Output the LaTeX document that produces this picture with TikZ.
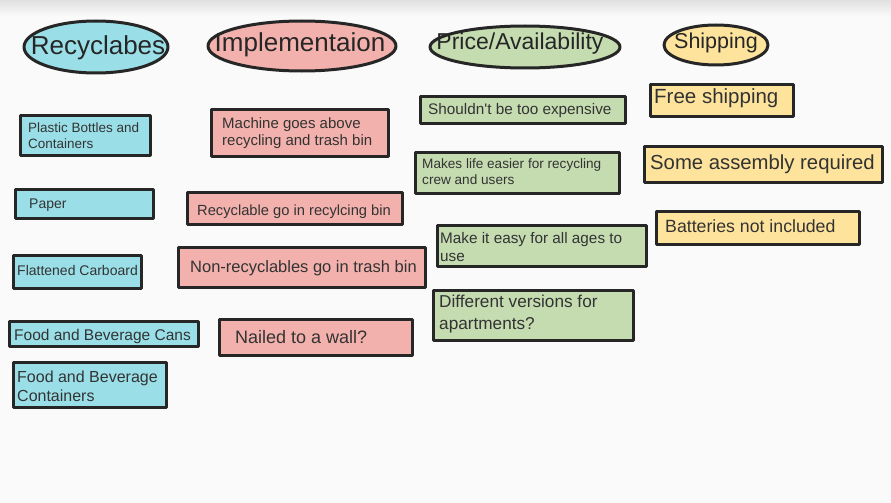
\documentclass[tikz,border=0pt]{standalone}
\usepackage{fontspec}
\setmainfont{Liberation Sans}
\usepackage{tikz}

\definecolor{recblue}{HTML}{9ADFE8}
\definecolor{imppink}{HTML}{F2B1AC}
\definecolor{pricegreen}{HTML}{C5DCB1}
\definecolor{shipyellow}{HTML}{FDE39C}
\definecolor{inkgray}{HTML}{333333}
\definecolor{pagebg}{HTML}{FAFAFA}

\tikzset{
  card/.style={draw=black!85, line width=3pt, line join=round},
  lbl/.style={anchor=west, inner sep=0pt, align=left, text=inkgray},
  head/.style={anchor=center, inner sep=0pt, text=black!85},
}
\newcommand{\fsz}[2]{\fontsize{#1}{#2}\selectfont}

\begin{document}
\begin{tikzpicture}[x=1pt,y=-1pt]
  \fill[pagebg] (0,0) rectangle (891,503);
  \shade[top color=black!12, bottom color=pagebg] (0,0) rectangle (891,16);

  % headers
  \draw[card, fill=recblue] (96,47) ellipse (72 and 26);
  \node[head, font=\fsz{26}{28}] (recycle) at (98,48) {Recyclabes};
  \draw[card, fill=imppink] (302,46) ellipse (94 and 25);
  \node[head, font=\fsz{26}{28}] (implement) at (300,45) {Implementaion};
  \draw[card, fill=pricegreen] (525,47) ellipse (95 and 21);
  \node[head, font=\fsz{23}{25}] (price) at (520,44) {Price/Availability};
  \draw[card, fill=shipyellow] (716,45) ellipse (52 and 20);
  \node[head, font=\fsz{21.5}{24}] (shipping) at (716,43) {Shipping};

  % recyclables
  \draw[card, fill=recblue] (20.5,115.5) rectangle (150.5,155.5);
  \node[lbl, font=\fsz{13.5}{16}] (plastic) at (28,135.5) {Plastic Bottles and\\Containers};
  \draw[card, fill=recblue] (15.5,189.5) rectangle (153.5,218.5);
  \node[lbl, font=\fsz{14}{16}] (paper) at (29,205) {Paper};
  \draw[card, fill=recblue] (13.5,255.5) rectangle (141.5,288.5);
  \node[lbl, font=\fsz{14}{16}] (carboard) at (17,270.5) {Flattened Carboard};
  \draw[card, fill=recblue] (9.5,321.5) rectangle (198.5,346.5);
  \node[lbl, font=\fsz{15.5}{18}] (cans) at (14,336) {Food and Beverage Cans};
  \draw[card, fill=recblue] (13.5,362.5) rectangle (166.5,407.5);
  \node[lbl, font=\fsz{16}{18.5}] (containers) at (17,386.5) {Food and Beverage\\Containers};

  % implementation
  \draw[card, fill=imppink] (211.5,109.5) rectangle (388.5,156.5);
  \node[lbl, font=\fsz{15}{17}] (machine) at (222,133) {Machine goes above\\recycling and trash bin};
  \draw[card, fill=imppink] (187.5,192.5) rectangle (402.5,224.5);
  \node[lbl, font=\fsz{14.7}{18}] (recbin) at (197,211.5) {Recyclable go in recylcing bin};
  \draw[card, fill=imppink] (178.5,247.5) rectangle (425.5,287.5);
  \node[lbl, font=\fsz{16.5}{19}] (trashbin) at (190,268.5) {Non-recyclables go in trash bin};
  \draw[card, fill=imppink] (219.5,319.5) rectangle (412.5,355.5);
  \node[lbl, font=\fsz{18}{20}] (wall) at (235,337.5) {Nailed to a wall?};

  % price / availability
  \draw[card, fill=pricegreen] (420.5,96.5) rectangle (625.5,123.5);
  \node[lbl, font=\fsz{15.3}{17}] (cheap) at (428,110.5) {Shouldn\textquotesingle t be too expensive};
  \draw[card, fill=pricegreen] (415.5,152.5) rectangle (619.5,193.5);
  \node[lbl, font=\fsz{13.6}{16}] (easier) at (422,171.5) {Makes life easier for recycling\\crew and users};
  \draw[card, fill=pricegreen] (437.5,225.5) rectangle (646.5,266.5);
  \node[lbl, font=\fsz{15.3}{18}] (ages) at (440,247.5) {Make it easy for all ages to\\use};
  \draw[card, fill=pricegreen] (433.5,290.5) rectangle (633.5,340.5);
  \node[lbl, font=\fsz{17.2}{22}] (apartments) at (439,314.5) {Different versions for\\apartments?};

  % shipping
  \draw[card, fill=shipyellow] (650.5,84.5) rectangle (793.5,116.5);
  \node[lbl, font=\fsz{20.5}{23}] (free) at (654,98.5) {Free shipping};
  \draw[card, fill=shipyellow] (644.5,146.5) rectangle (882.5,182.5);
  \node[lbl, font=\fsz{20.3}{23}] (assembly) at (650,164.5) {Some assembly required};
  \draw[card, fill=shipyellow] (656.5,211.5) rectangle (859.5,244.5);
  \node[lbl, font=\fsz{17.7}{20}] (batteries) at (665,226.5) {Batteries not included};
\end{tikzpicture}
\end{document}
